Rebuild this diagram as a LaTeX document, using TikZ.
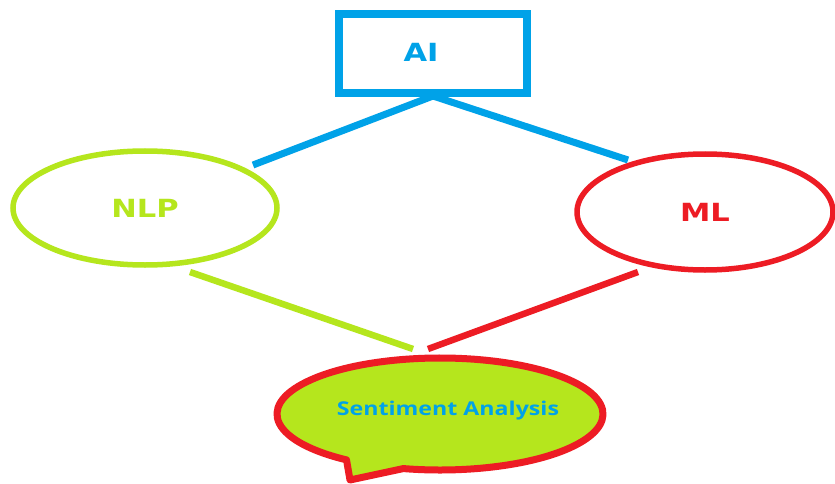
\documentclass[tikz,border=0pt]{standalone}
\usepackage{fontspec}
\setmainfont{DejaVu Sans}
\newfontfamily\bubblefont{Open Sans}
\usetikzlibrary{shapes.geometric,calc}
\definecolor{paintblue}{HTML}{00A2E8}
\definecolor{paintgreen}{HTML}{B5E61D}
\definecolor{paintred}{HTML}{ED1C24}
\tikzset{
  wide/.style={font=\bfseries\fontsize{25}{25}\selectfont},
  topic/.style={ellipse, draw, line width=5.5pt, minimum width=264pt, minimum height=114pt, inner sep=0pt},
  link/.style={line width=7pt},
}
\newcommand{\stretchtext}[1]{\scalebox{1.22}[1]{#1}}
\begin{document}
\begin{tikzpicture}[x=1pt,y=-1pt]
\useasboundingbox (0,0) rectangle (835,484);
\fill[white] (0,0) rectangle (835,484);

% top box, with its label set slightly left of centre
\node[draw=paintblue, line width=8pt, minimum width=188pt, minimum height=79pt, inner sep=0pt] (ai) at (433,53.5) {};
\node[text=paintblue, wide] (ailabel) at (421,52) {\stretchtext{AI}};

% the two topic ellipses
\node[topic, draw=paintgreen, text=paintgreen, wide] (nlp) at (145,208) {\stretchtext{NLP}};
\node[topic, draw=paintred, text=paintred, wide, minimum width=256pt, minimum height=116pt] (ml) at (705,212) {\stretchtext{ML}};

% speech bubble
\coordinate (bubble) at (440,414);
\filldraw[paintred, fill=paintgreen, line width=7pt, line join=round]
  ($(bubble)+(125:163 and 56)$) arc[start angle=125, end angle=463, x radius=163, y radius=56]
  -- (350,480) -- cycle;
\node[text=paintblue, font=\bubblefont\bfseries\fontsize{19}{19}\selectfont] (sa) at (448,411) {\stretchtext{Sentiment Analysis}};

% connector ends
\coordinate (nlpin) at (253,165);
\coordinate (mlin) at (628,160);
\coordinate (aiout) at (433,96);
\coordinate (nlpout) at (190,272);
\coordinate (mlout) at (638,272);
\coordinate (sagreen) at (413,349);
\coordinate (sared) at (428,349);

\draw[link, paintblue] (aiout) -- (nlpin);
\draw[link, paintblue] (aiout) -- (mlin);
\draw[link, paintgreen, line width=6.5pt] (nlpout) -- (sagreen);
\draw[link, paintred, line width=6.5pt] (mlout) -- (sared);
\end{tikzpicture}
\end{document}
